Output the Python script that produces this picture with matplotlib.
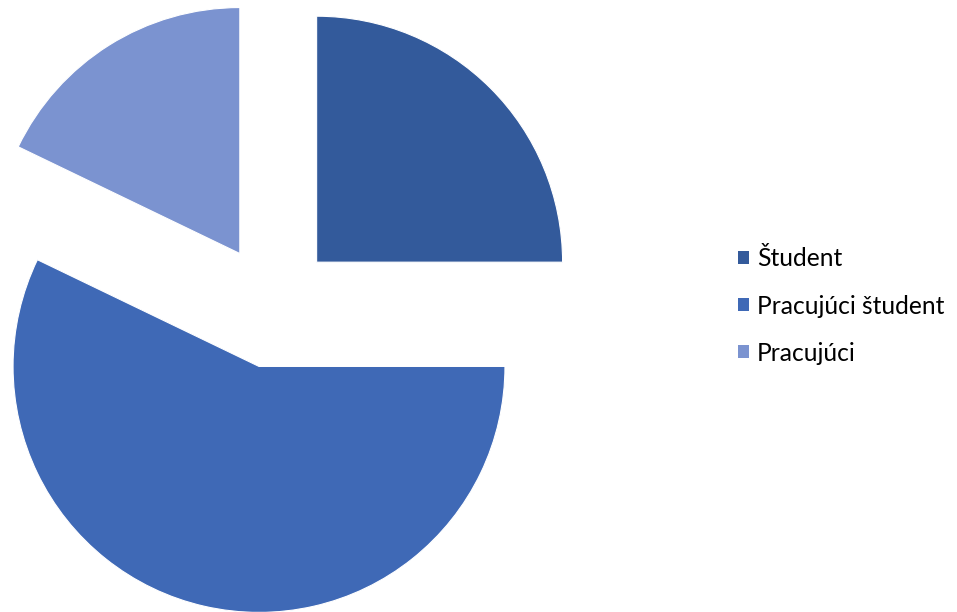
import matplotlib.pyplot as plt
from matplotlib.patches import Patch

labels = ["Študent", "Pracujúci študent", "Pracujúci"]
values = [14, 32, 10]
colors = ["#335A9B", "#3F69B6", "#7B93D0"]
explode = [0.254, 0.254, 0.254]

plt.rcParams['font.family'] = ['Lato', 'DejaVu Sans']

fig = plt.figure(figsize=(9.57, 6.12), dpi=100)
ax = fig.add_axes([0, 0, 1, 1])

ax.pie(values, colors=colors, explode=explode, startangle=90,
       counterclock=False, radius=1.008,
       wedgeprops=dict(edgecolor="white", linewidth=0.8))

# pie centred left, room on the right for the legend
ax.set_xlim(-1.118, 2.804)
ax.set_ylim(-1.254, 1.254)
ax.set_aspect('auto')
ax.axis('off')

handles = [Patch(facecolor=c, edgecolor='none') for c in colors]
ax.legend(handles, labels, loc='center left',
          bbox_to_anchor=(738 / 957, 1 - 306 / 612),
          frameon=False, fontsize=17.7,
          handlelength=0.45, handleheight=0.45, handletextpad=0.33,
          labelspacing=0.98, borderpad=0, borderaxespad=0)

fig.savefig("out.png", dpi=100)
